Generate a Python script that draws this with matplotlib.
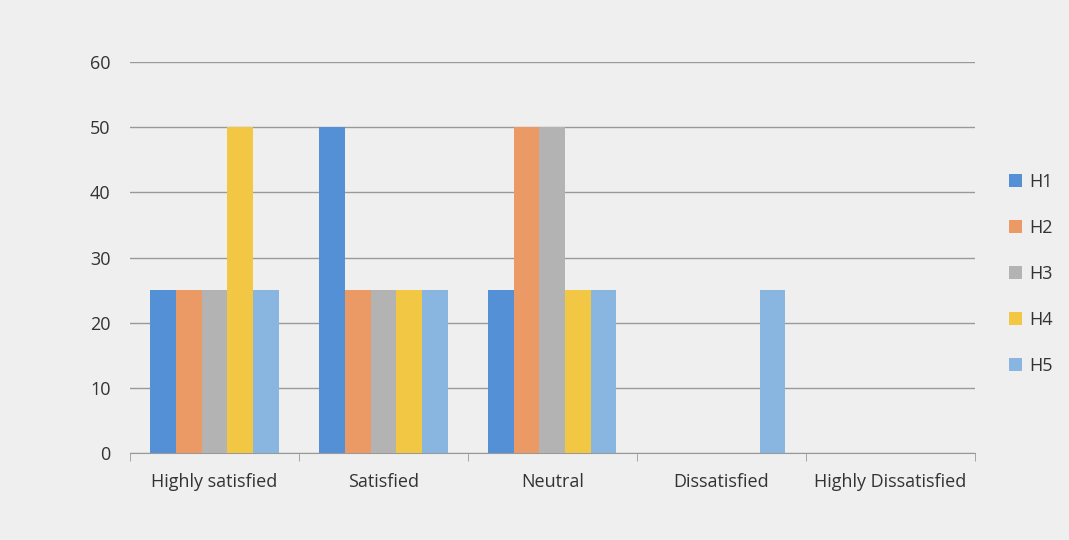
import numpy as np
import matplotlib.pyplot as plt

categories = ["Highly satisfied", "Satisfied", "Neutral", "Dissatisfied", "Highly Dissatisfied"]
series = ["H1", "H2", "H3", "H4", "H5"]
h1 = [25, 50, 25, 0, 0]
h2 = [25, 25, 50, 0, 0]
h3 = [25, 25, 50, 0, 0]
h4 = [50, 25, 25, 0, 0]
h5 = [25, 25, 25, 25, 0]
values = [h1, h2, h3, h4, h5]
colors = ["#5490d6", "#eb9a66", "#b3b3b3", "#f2c744", "#89b6e0"]

plt.rcParams["font.family"] = ["Open Sans", "DejaVu Sans"]

fig = plt.figure(figsize=(10.69, 5.4), dpi=100)
fig.patch.set_facecolor("#efefef")
ax = fig.add_axes([0.1216, 0.161, 0.79, 0.724])
ax.set_facecolor("#efefef")

x = np.arange(len(categories))
w = 0.152
for i, (name, vals) in enumerate(zip(series, values)):
    ax.bar(x + (i - 2) * w, vals, width=w, color=colors[i], label=name, zorder=3)

ax.set_xlim(-0.5, len(categories) - 0.5)
ax.set_ylim(0, 60)
ax.set_yticks(range(0, 61, 10))
ax.yaxis.grid(True, color="#999999", linewidth=1.0, zorder=0)
ax.set_xticks(x)
ax.set_xticklabels(categories, fontsize=13, color="#333333")
ax.tick_params(axis="x", length=0, pad=14)
ax.tick_params(axis="y", length=0, pad=14, labelsize=13, labelcolor="#333333")
# category boundary ticks
ax.set_xticks(np.arange(-0.5, len(categories)), minor=True)
ax.tick_params(axis="x", which="minor", length=6, color="#999999")
for s in ["top", "right", "left"]:
    ax.spines[s].set_visible(False)
ax.spines["bottom"].set_color("#999999")

ax.legend(loc="center left", bbox_to_anchor=(1.022, 0.458), frameon=False,
          fontsize=13, handlelength=0.7, handleheight=0.7, handletextpad=0.4,
          labelspacing=1.55, labelcolor="#333333")

fig.savefig("out.png", dpi=100, facecolor=fig.get_facecolor())
